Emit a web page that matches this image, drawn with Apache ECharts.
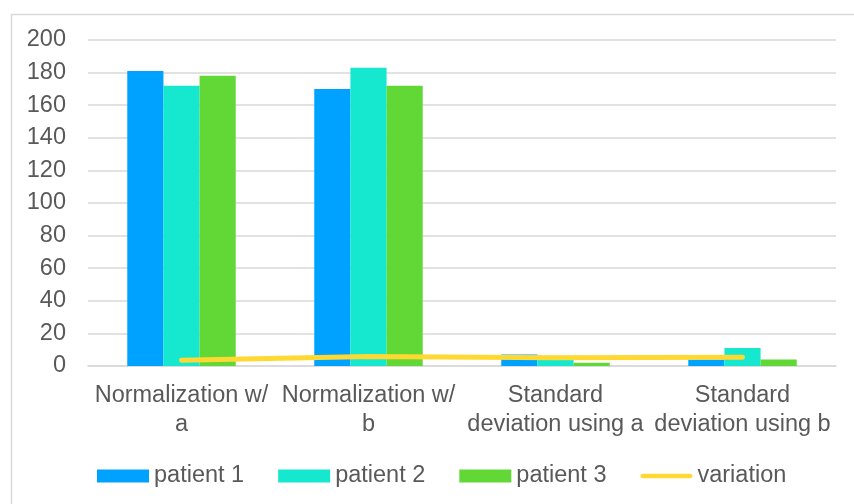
<!DOCTYPE html>
<html>
<head>
<meta charset="utf-8">
<script src="https://cdn.jsdelivr.net/npm/echarts@6/dist/echarts.min.js"></script>
<style>
  html, body { margin: 0; padding: 0; background: #ffffff; }
  #chart { width: 854px; height: 504px; }
</style>
</head>
<body>
<div id="chart"></div>
<script>
// Categories along the x axis (line breaks as displayed)
const categories = [
  'Normalization w/\na',
  'Normalization w/\nb',
  'Standard\ndeviation using a',
  'Standard\ndeviation using b'
];

// Series values
const patient1 = [181, 170, 7, 4];
const patient2 = [172, 183, 4, 11];
const patient3 = [178, 172, 2, 4];
const variation = [3.5, 5.8, 5.1, 5.4];

// Y axis range
const yMin = 0;
const yMax = 200;
const yStep = 20;

const textColor = '#595959';
const gridColor = '#d9d9d9';
const fontFamily = '"Liberation Sans", Arial, sans-serif';
const fontSize = 23.5;

// Rounded stroke used as the legend icon of the line series
const lineIcon = 'path://M2.5,0 H52.5 A2.5,2.5 0 0 1 52.5,5 H2.5 A2.5,2.5 0 0 1 2.5,0 Z';

const chart = echarts.init(document.getElementById('chart'), null, { renderer: 'canvas' });

chart.setOption({
  backgroundColor: '#ffffff',
  animation: false,
  textStyle: { fontFamily: fontFamily, color: textColor },
  graphic: [{
    type: 'rect',
    left: 9,
    top: 12,
    shape: { width: 900, height: 600 },
    style: { fill: 'none', stroke: gridColor, lineWidth: 1.5 },
    silent: true
  }],
  grid: { left: 88, right: 18, top: 40, bottom: 138, containLabel: false },
  legend: {
    left: 97,
    top: 464,
    padding: 0,
    itemWidth: 52,
    itemHeight: 13,
    itemGap: 34,
    textStyle: { fontSize: fontSize, color: textColor, fontFamily: fontFamily },
    data: [
      { name: 'patient 1', icon: 'rect' },
      { name: 'patient 2', icon: 'rect' },
      { name: 'patient 3', icon: 'rect' },
      { name: 'variation', icon: lineIcon }
    ]
  },
  xAxis: {
    type: 'category',
    data: categories,
    axisLine: { show: true, lineStyle: { color: gridColor, width: 1.5 } },
    axisTick: { show: false },
    axisLabel: {
      color: textColor,
      fontSize: fontSize,
      fontFamily: fontFamily,
      lineHeight: 29,
      margin: 15,
      interval: 0
    }
  },
  yAxis: {
    type: 'value',
    min: yMin,
    max: yMax,
    interval: yStep,
    axisLine: { show: false },
    axisTick: { show: false },
    splitLine: { lineStyle: { color: gridColor, width: 1.5 } },
    axisLabel: { color: textColor, fontSize: fontSize, fontFamily: fontFamily, margin: 22 }
  },
  series: [
    {
      name: 'patient 1', type: 'bar', data: patient1,
      barGap: '0%', barCategoryGap: '42%',
      itemStyle: { color: '#00A2FF' }
    },
    {
      name: 'patient 2', type: 'bar', data: patient2,
      barGap: '0%', barCategoryGap: '42%',
      itemStyle: { color: '#16E7CF' }
    },
    {
      name: 'patient 3', type: 'bar', data: patient3,
      barGap: '0%', barCategoryGap: '42%',
      itemStyle: { color: '#61D836' }
    },
    {
      name: 'variation', type: 'line', data: variation,
      symbol: 'none', smooth: false,
      lineStyle: { color: '#FFD932', width: 5, cap: 'round', join: 'round' },
      itemStyle: { color: '#FFD932' }
    }
  ]
});
</script>
</body>
</html>
